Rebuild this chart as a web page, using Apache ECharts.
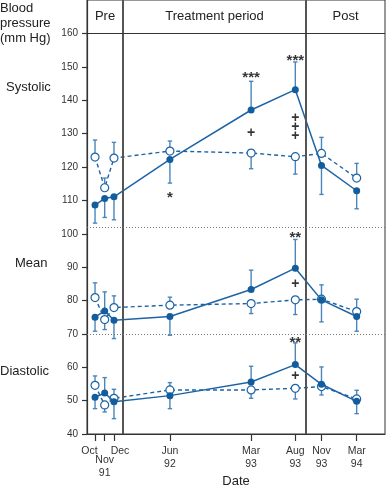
<!DOCTYPE html>
<html><head><meta charset="utf-8">
<script src="https://cdn.jsdelivr.net/npm/echarts@6/dist/echarts.min.js"></script>
<style>html,body{margin:0;padding:0;background:#fff}#c{width:386px;height:493px}</style>
</head><body><div id="c"></div>
<script>
// ---- data (x in months since Oct 1991) ----
const dateMonths = [0, 1.07, 2.1, 8.3, 17.3, 22.2, 25.1, 29];
const dateLabels = ['Oct', 'Nov\n91', 'Dec', 'Jun\n92', 'Mar\n93', 'Aug\n93', 'Nov\n93', 'Mar\n94'];
const yTicks = [40, 50, 60, 70, 80, 90, 100, 110, 120, 130, 140, 150, 160];
const xMin = -0.89, xMax = 32.14, yMin = 40, yMax = 170.07;
const periodNames = ['Pre', 'Treatment period', 'Post'];
const periodBounds = [xMin, 3.1, 23.4, xMax];
const headerBase = 160;
const refLines = [102, 70];

const sysSolid = [108.6, 110.6, 111.1, 122.3, 137.1, 143.2, 120.5, 112.9];
const sysSolidErr = [103.2, 104.9, 104.2, 115.2, 145.7, 151.5, 111.8, 107.5];
const sysOpen = [123.0, 113.8, 122.7, 124.8, 124.2, 123.1, 124.1, 116.7];
const sysOpenErr = [128.1, 116.7, 127.4, 127.8, 119.5, 117.9, 128.9, 121.1];

const meanSolid = [75.0, 76.9, 74.1, 75.2, 83.3, 89.7, 80.2, 75.2];
const meanSolidErr = [70.8, 82.6, 68.6, 69.6, 89.1, 98.3, 73.6, 70.8];
const meanOpen = [80.9, 74.3, 77.9, 78.6, 79.1, 80.2, 80.4, 76.7];
const meanOpenErr = [85.3, 71.3, 81.4, 81.0, 76.1, 75.8, 84.7, 80.4];

const diaSolid = [51.0, 52.3, 49.7, 51.5, 55.6, 60.8, 54.9, 49.8];
const diaSolidErr = [47.6, 56.9, 44.6, 47.6, 60.3, 67.3, 60.1, 46.1];
const diaOpen = [54.6, 48.7, 50.7, 53.2, 53.2, 53.7, 54.2, 50.5];
const diaOpenErr = [57.4, 46.6, 53.4, 55.4, 50.7, 50.5, 51.7, 53.1];

const annX = [8.3, 17.3, 17.3, 22.2, 22.2, 22.2, 22.2, 22.2, 22.2, 22.2, 22.2];
const annY = [110.8, 146.6, 130.3, 151.7, 134.8, 132.1, 129.4, 98.7, 84.9, 67.4, 57.2];
const annText = ['*', '***', '+', '***', '+', '+', '+', '**', '+', '**', '+'];

// ---- styles ----
const FONT = 'Liberation Sans, Arial, Helvetica, sans-serif';
const SOLID = '#135d9d';
const LINE = '#1d64a5';
const ERR = '#4a86ba';

function pts(vals) { return dateMonths.map((x, i) => [x, vals[i]]); }
function errSeries(vals, ends) {
  return {
    type: 'custom', silent: true, z: 2,
    encode: { x: 0, y: [1, 2] },
    data: dateMonths.map((x, i) => [x, vals[i], ends[i]]),
    renderItem(params, api) {
      const p0 = api.coord([api.value(0), api.value(1)]);
      const p1 = api.coord([api.value(0), api.value(2)]);
      const w = 2.2;
      return { type: 'group', children: [
        { type: 'line', shape: { x1: p0[0], y1: p0[1], x2: p1[0], y2: p1[1] }, style: { stroke: ERR, lineWidth: 1.4 } },
        { type: 'line', shape: { x1: p1[0] - w, y1: p1[1], x2: p1[0] + w, y2: p1[1] }, style: { stroke: ERR, lineWidth: 1.4 } }
      ] };
    }
  };
}
function solidSeries(vals) {
  return { type: 'line', z: 4, data: pts(vals), symbol: 'circle', symbolSize: 7,
    itemStyle: { color: SOLID }, lineStyle: { color: LINE, width: 1.5 }, silent: true };
}
function openSeries(vals) {
  return { type: 'line', z: 3, data: pts(vals), symbol: 'circle', symbolSize: 8,
    itemStyle: { color: '#fff', borderColor: LINE, borderWidth: 1.2 },
    lineStyle: { color: LINE, width: 1.4, type: [4, 3] }, silent: true };
}
function labelFor(v) {
  let best = 0;
  dateMonths.forEach((m, i) => { if (Math.abs(m - v) < Math.abs(dateMonths[best] - v)) best = i; });
  return best;
}
function labelAxis(idxs, offset, padding) {
  return {
    type: 'value', min: xMin, max: xMax, position: 'bottom', offset: offset,
    axisLine: { show: false }, axisTick: { show: false }, splitLine: { show: false },
    axisLabel: { customValues: idxs.map(i => dateMonths[i]), margin: 11, fontSize: 10.5, color: '#333',
      lineHeight: 12.5, fontFamily: FONT, padding: padding, hideOverlap: false,
      formatter: v => dateLabels[labelFor(v)] }
  };
}

const chart = echarts.init(document.getElementById('c'), null, { renderer: 'canvas' });
const option = {
  animation: false,
  backgroundColor: '#fff',
  textStyle: { fontFamily: FONT },
  grid: { left: 87, right: 1, top: 0, bottom: 54, show: true, borderColor: '#333', borderWidth: 1, backgroundColor: 'transparent' },
  xAxis: [{
    type: 'value', min: xMin, max: xMax,
    axisLine: { show: true, onZero: false, lineStyle: { color: '#333', width: 1.2 } },
    axisTick: { show: true, customValues: dateMonths, length: 7, lineStyle: { color: '#333', width: 1.2 } },
    axisLabel: {
      customValues: [3, 4, 5, 6, 7].map(i => dateMonths[i]),
      margin: 11, fontSize: 10.5, color: '#333', lineHeight: 12.5, fontFamily: FONT,
      formatter: v => dateLabels[labelFor(v)]
    },
    splitLine: { show: false },
    name: 'Date', nameLocation: 'middle', nameGap: 41,
    nameTextStyle: { fontSize: 13, color: '#222', fontFamily: FONT }
  },
  labelAxis([0], 0, [0, 11, 0, 0]),
  labelAxis([1], 9, 0),
  labelAxis([2], 0, [0, 0, 0, 12])
  ],
  yAxis: {
    type: 'value', min: yMin, max: yMax,
    axisLine: { show: true, onZero: false, lineStyle: { color: '#333', width: 1.2 } },
    axisTick: { show: true, customValues: yTicks, length: 5, lineStyle: { color: '#333', width: 1.2 } },
    axisLabel: { customValues: yTicks, fontSize: 10, color: '#333', margin: 9, fontFamily: FONT },
    splitLine: { show: false }
  },
  graphic: [
    { type: 'text', left: 0, top: 1, style: { text: 'Blood\npressure\n(mm Hg)', font: '13px ' + FONT, fill: '#222', lineHeight: 15 } },
    { type: 'text', left: 6, top: 81, style: { text: 'Systolic', font: '13px ' + FONT, fill: '#222' } },
    { type: 'text', left: 15, top: 257, style: { text: 'Mean', font: '13px ' + FONT, fill: '#222' } },
    { type: 'text', left: 0, top: 365, style: { text: 'Diastolic', font: '13px ' + FONT, fill: '#222' } }
  ],
  series: [
    errSeries(sysSolid, sysSolidErr), errSeries(sysOpen, sysOpenErr),
    errSeries(meanSolid, meanSolidErr), errSeries(meanOpen, meanOpenErr),
    errSeries(diaSolid, diaSolidErr), errSeries(diaOpen, diaOpenErr),
    openSeries(sysOpen), solidSeries(sysSolid),
    openSeries(meanOpen), solidSeries(meanSolid),
    openSeries(diaOpen), solidSeries(diaSolid),
    {
      type: 'scatter', z: 5, silent: true, symbolSize: 1, itemStyle: { color: 'rgba(0,0,0,0)' },
      data: annX.map((x, i) => [x, annY[i]]),
      labelLayout: { hideOverlap: false },
      label: { show: true, position: 'inside',
        formatter: p => annText[p.dataIndex].indexOf('*') >= 0 ? '{s|' + annText[p.dataIndex] + '}' : '{p|' + annText[p.dataIndex] + '}',
        rich: {
          s: { fontSize: 15, fontWeight: 'bold', color: '#000', fontFamily: FONT },
          p: { fontSize: 14, fontWeight: 'bold', color: '#000', fontFamily: FONT }
        } },
      markLine: {
        silent: true, symbol: 'none', label: { show: false }, animation: false,
        data: [
          { xAxis: periodBounds[1], lineStyle: { color: '#555', width: 2, type: 'solid' } },
          { xAxis: periodBounds[2], lineStyle: { color: '#555', width: 2, type: 'solid' } },
          { yAxis: headerBase, lineStyle: { color: '#333', width: 1, type: 'solid' } },
          ...refLines.map(v => ({ yAxis: v, lineStyle: { color: '#777', width: 1, type: [1, 2] } }))
        ]
      },
      markArea: {
        silent: true, itemStyle: { color: 'rgba(0,0,0,0)' },
        label: { show: true, position: 'inside', fontSize: 13, color: '#222', fontFamily: FONT },
        data: periodNames.map((n, i) => [
          { name: n, xAxis: periodBounds[i], yAxis: headerBase },
          { xAxis: periodBounds[i + 1], yAxis: yMax }
        ])
      }
    }
  ]
};
chart.setOption(option);
</script></body></html>
